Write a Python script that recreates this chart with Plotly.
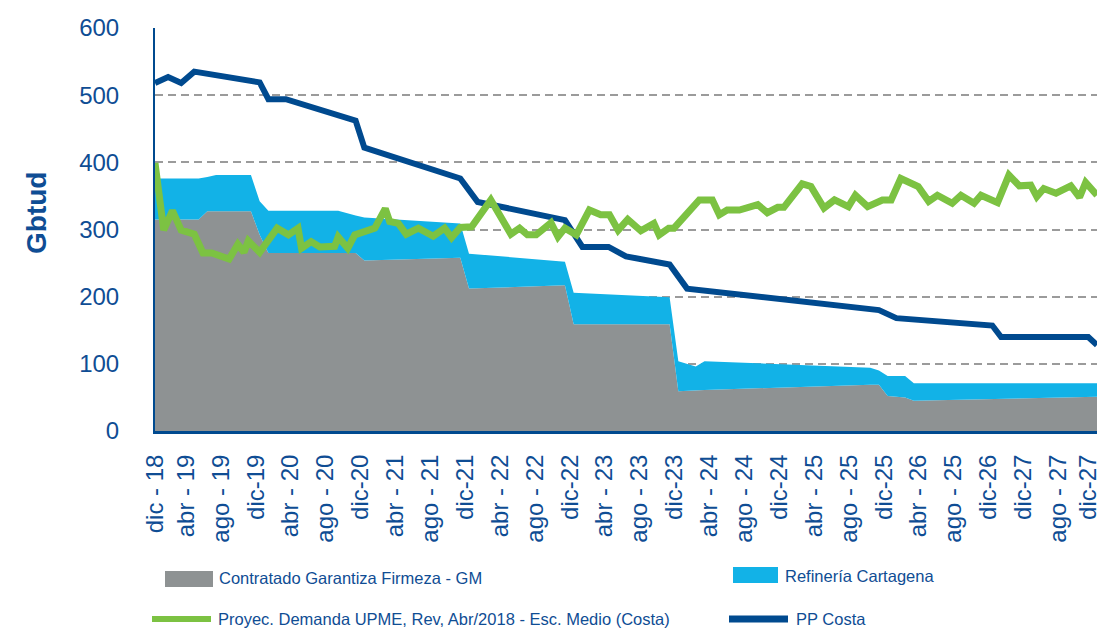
import plotly.graph_objects as go

# x axis: months counted from dic-18 (0) to dic-27 (108), labelled every 4 months
TICK_LABELS = [
    "dic - 18", "abr - 19", "ago - 19", "dic-19", "abr - 20", "ago - 20", "dic-20",
    "abr - 21", "ago - 21", "dic-21", "abr - 22", "ago - 22", "dic-22", "abr - 23",
    "ago - 23", "dic-23", "abr - 24", "ago - 24", "dic-24", "abr - 25", "ago - 25",
    "dic-25", "abr - 26", "ago - 25", "dic-26", "dic-27", "ago - 27", "dic-27",
]
TICK_MONTHS = list(range(0, 109, 4))

# stacked supply areas (Gbtud)
AREA_MONTHS = [0, 5, 6, 7, 11, 12, 13, 21, 23, 24, 35, 36, 47, 48, 59, 60, 62, 63,
               82, 83, 84, 86, 87, 108]
CONTRATADO_GM = [315, 315, 327, 327, 327, 292, 265, 265, 265, 254, 258, 212, 217, 159,
                 159, 59, 60, 61, 69, 69, 52, 50, 45, 51]
REFINERIA = [61, 61, 51, 54, 54, 50, 63, 63, 56, 64, 51, 52, 35, 47, 40, 45, 36, 43,
             25, 21, 30, 32, 26, 20]

# PP Costa
PP_MONTHS = [0, 1.5, 3, 4.5, 12, 13, 15, 23, 24, 35, 37, 47, 49, 52, 54, 59, 61, 83,
             85, 96, 97, 107, 108]
PP_COSTA = [518, 527, 518, 535, 519, 494, 494, 462, 422, 376, 341, 314, 274, 274, 260,
            248, 212, 180, 168, 157, 140, 140, 128]

# demand projection UPME
DEM_MONTHS = [0, 1, 2, 3, 4.5, 5.5, 6.5, 8.5, 9.5, 10.2, 10.7, 12, 14, 15.3, 16.4, 16.8,
              17.9, 18.9, 20.6, 21, 22.1, 22.9, 25.2, 26.4, 26.9, 27.9, 28.8, 30.2, 31.9,
              33.2, 34, 35, 36.3, 38.5, 40.8, 41.8, 42.7, 43.7, 45.4, 46.2, 47, 48.3,
              49.8, 51.1, 52.1, 53.1, 54.2, 55.7, 57.2, 57.8, 58.9, 59.5, 62.4, 63.9,
              64.7, 65.6, 67, 69.1, 70.2, 71.4, 72.1, 74.2, 75.2, 76.7, 77.9, 79.5, 80.3,
              81.7, 83.4, 84.4, 85.5, 87.5, 88.7, 89.7, 91.4, 92.4, 93.9, 94.7, 96.6,
              97.9, 99.1, 100.4, 101.1, 101.9, 103.3, 105, 106, 106.7, 108]
DEMANDA = [399, 299, 328, 299, 293, 265, 265, 256, 278, 266, 283, 266, 302, 292, 302, 272,
           282, 274, 275, 289, 272, 292, 302, 331, 312, 309, 293, 302, 290,
           302, 288, 303, 304, 344, 293, 302, 292, 292, 310, 289, 302, 292,
           329, 322, 322, 299, 315, 298, 309, 292, 302, 302, 344, 344,
           322, 329, 329, 337, 325, 333, 333, 368, 364, 332, 344, 334, 351,
           334, 344, 344, 376, 364, 342, 351, 339, 351, 339, 351, 340,
           381, 365, 366, 349, 361, 354, 365, 348, 370, 351]

NAMES = [
    "Contratado Garantiza Firmeza - GM",
    "Refinería Cartagena",
    "Proyec. Demanda UPME, Rev, Abr/2018 - Esc. Medio (Costa)",
    "PP Costa",
]

GRAY = "#8e9293"
LIGHT_BLUE = "#12b2e7"
GREEN = "#7cc242"
NAVY = "#004a8f"
TEXT = "#0f4d94"
FONT = "Liberation Sans, Arial, sans-serif"

W, H = 1104, 628
L, R, T, B = 155, 7, 28, 197


def px_x(px):
    return (px - L) / (W - L - R)


def px_y(py):
    return (H - B - py) / (H - T - B)


# labels in the source sit a few px left of their month; keep first and last
# one inside the page
tick_pos = [0] + [m - 0.45 for m in TICK_MONTHS[1:-1]] + [TICK_MONTHS[-1] - 1.0]

fig = go.Figure()
fig.add_trace(go.Scatter(
    x=AREA_MONTHS, y=CONTRATADO_GM, name=NAMES[0], stackgroup="oferta",
    mode="lines", line=dict(width=0, color=GRAY), fillcolor=GRAY,
))
fig.add_trace(go.Scatter(
    x=AREA_MONTHS, y=REFINERIA, name=NAMES[1], stackgroup="oferta",
    mode="lines", line=dict(width=0, color=LIGHT_BLUE), fillcolor=LIGHT_BLUE,
))
fig.add_trace(go.Scatter(
    x=PP_MONTHS, y=PP_COSTA, name=NAMES[3], mode="lines",
    line=dict(color=NAVY, width=6),
))
fig.add_trace(go.Scatter(
    x=DEM_MONTHS, y=DEMANDA, name=NAMES[2], mode="lines",
    line=dict(color=GREEN, width=7),
))

# legend drawn by hand (2 x 2 layout, wide swatches)
swatches = [
    dict(type="rect", x0=px_x(165), x1=px_x(213), y0=px_y(587), y1=px_y(571),
         fillcolor=GRAY, line=dict(width=0)),
    dict(type="rect", x0=px_x(733), x1=px_x(778), y0=px_y(583), y1=px_y(567),
         fillcolor=LIGHT_BLUE, line=dict(width=0)),
    dict(type="line", x0=px_x(152), x1=px_x(211), y0=px_y(619), y1=px_y(619),
         line=dict(color=GREEN, width=6)),
    dict(type="line", x0=px_x(729), x1=px_x(788), y0=px_y(619), y1=px_y(619),
         line=dict(color=NAVY, width=7)),
]
for s in swatches:
    fig.add_shape(xref="paper", yref="paper", layer="above", **s)

legend_text = [(NAMES[0], 217, 578), (NAMES[1], 783, 576), (NAMES[2], 216, 619),
               (NAMES[3], 794, 619)]
for txt, x, y in legend_text:
    fig.add_annotation(
        text=txt, x=px_x(x), y=px_y(y), xref="paper", yref="paper",
        xanchor="left", yanchor="middle", showarrow=False,
        font=dict(family=FONT, size=16.5, color=TEXT),
    )

# y axis title, sitting a little above the plot's mid height as in the source
fig.add_annotation(
    text="<b>Gbtud</b>", x=px_x(36), y=px_y(213), xref="paper", yref="paper",
    xanchor="center", yanchor="middle", textangle=-90, showarrow=False,
    font=dict(family=FONT, size=28, color=TEXT),
)

fig.update_layout(
    width=W, height=H,
    margin=dict(l=L, r=R, t=T, b=B),
    paper_bgcolor="white", plot_bgcolor="white",
    showlegend=False,
    font=dict(family=FONT, color=TEXT),
    xaxis=dict(
        range=[0, 108], tickmode="array", tickvals=tick_pos, ticktext=TICK_LABELS,
        tickangle=-90, showgrid=False, zeroline=False, automargin=False,
        showline=True, linecolor=NAVY, linewidth=3, ticks="",
        tickfont=dict(family=FONT, size=24, color=TEXT), ticklabelstandoff=11,
        ticklabeloverflow="allow",
    ),
    yaxis=dict(
        range=[0, 600], dtick=100, showgrid=True, gridcolor="#9b9b9b", gridwidth=2,
        griddash="8px,5px", zeroline=False, automargin=False,
        showline=True, linecolor=NAVY, linewidth=2, ticks="",
        tickfont=dict(family=FONT, size=24, color=TEXT), ticklabelstandoff=29,
    ),
)

# the page body has a default 8px margin; drop it so the figure sits at 0,0
fig.write_html(
    "out.html",
    config={"displayModeBar": False},
    post_script="document.body.style.margin = '0';",
)
